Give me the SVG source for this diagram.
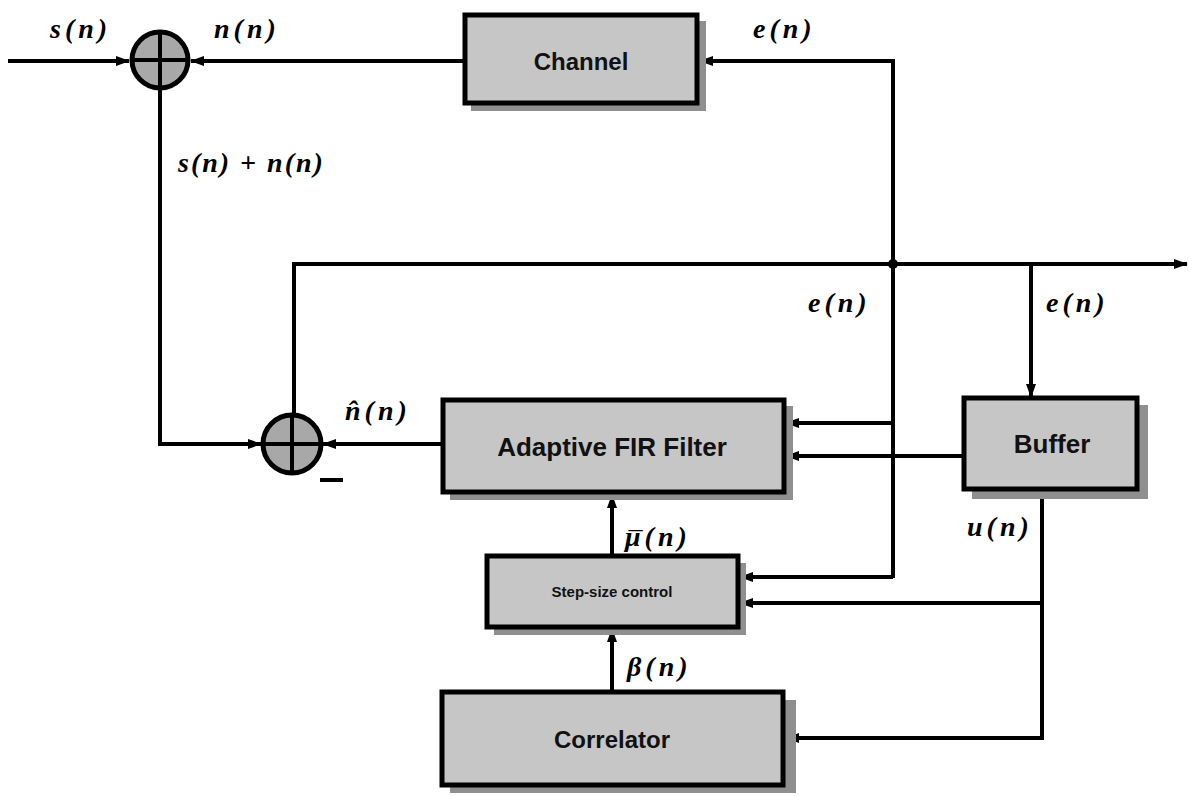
<svg xmlns="http://www.w3.org/2000/svg" width="1189" height="796" viewBox="0 0 1189 796">
<style>
.ln{fill:none;stroke:#000;stroke-width:4;stroke-linejoin:miter}
.box{fill:#c6c6c6;stroke:#000;stroke-width:5}
.sh{fill:#8f8f8f}
.bt{font-family:"Liberation Sans",Arial,sans-serif;font-weight:bold;fill:#111;text-anchor:middle}
.lb{font-family:"Liberation Serif","Times New Roman",serif;font-weight:bold;font-style:italic;font-size:28px;letter-spacing:4px;fill:#000}
.sum{fill:#a8a8a8;stroke:#000;stroke-width:5}
</style>
<defs>
<marker id="ar" markerWidth="14" markerHeight="12" refX="13" refY="6" orient="auto" markerUnits="userSpaceOnUse">
<path d="M0,1 L14,6 L0,11 Z" fill="#000"/>
</marker>
</defs>
<rect width="1189" height="796" fill="#fff"/>

<g id="connectors">
<line class="ln" x1="8" y1="61" x2="129" y2="61" marker-end="url(#ar)"/>
<line class="ln" x1="465" y1="61" x2="191" y2="61" marker-end="url(#ar)"/>
<path class="ln" d="M893,578 L893,61 L700,61" marker-end="url(#ar)"/>
<path class="ln" d="M160,89 L160,444 L261,444" marker-end="url(#ar)"/>
<path class="ln" d="M294,414 L294,264 L1187,264" marker-end="url(#ar)"/>
<circle cx="893" cy="264" r="5" fill="#000"/>
<line class="ln" x1="1031" y1="264" x2="1031" y2="397" marker-end="url(#ar)"/>
<line class="ln" x1="442" y1="444" x2="323" y2="444" marker-end="url(#ar)"/>
<line class="ln" x1="893" y1="423" x2="786" y2="423" marker-end="url(#ar)"/>
<line class="ln" x1="964" y1="456" x2="786" y2="456" marker-end="url(#ar)"/>
<line class="ln" x1="893" y1="577" x2="740" y2="577" marker-end="url(#ar)"/>
<path class="ln" d="M1042,490 L1042,738 L786,738" marker-end="url(#ar)"/>
<line class="ln" x1="1042" y1="603" x2="740" y2="603" marker-end="url(#ar)"/>
<line class="ln" x1="612" y1="555" x2="612" y2="495" marker-end="url(#ar)"/>
<line class="ln" x1="612" y1="692" x2="612" y2="629" marker-end="url(#ar)"/>
<line x1="320" y1="480" x2="343" y2="480" stroke="#000" stroke-width="4"/>
</g>

<g id="sum1">
<circle class="sum" cx="160" cy="60" r="28"/>
<line x1="132" y1="60" x2="188" y2="60" stroke="#000" stroke-width="4"/>
<line x1="160" y1="32" x2="160" y2="88" stroke="#000" stroke-width="4"/>
</g>

<g id="sum2">
<circle class="sum" cx="292" cy="444" r="29"/>
<line x1="263" y1="444" x2="321" y2="444" stroke="#000" stroke-width="4"/>
<line x1="292" y1="415" x2="292" y2="473" stroke="#000" stroke-width="4"/>
</g>

<g id="channel">
<rect class="sh" x="471" y="21" width="235" height="90"/>
<rect class="box" x="465" y="15" width="232" height="88"/>
<text class="bt" x="581" y="70" font-size="24">Channel</text>
</g>

<g id="adaptive">
<rect class="sh" x="450" y="406" width="343" height="94"/>
<rect class="box" x="443" y="400" width="341" height="92"/>
<text class="bt" x="612" y="456" font-size="26">Adaptive FIR Filter</text>
</g>

<g id="buffer">
<rect class="sh" x="972" y="405" width="176" height="94"/>
<rect class="box" x="964" y="398" width="173" height="91"/>
<text class="bt" x="1052" y="453" font-size="26">Buffer</text>
</g>

<g id="stepsize">
<rect class="sh" x="494" y="563" width="252" height="72"/>
<rect class="box" x="487" y="556" width="251" height="71"/>
<text class="bt" x="612" y="597" font-size="15">Step-size control</text>
</g>

<g id="correlator">
<rect class="sh" x="450" y="700" width="346" height="93"/>
<rect class="box" x="442" y="692" width="341" height="93"/>
<text class="bt" x="612" y="748" font-size="24">Correlator</text>
</g>

<g id="labels">
<text class="lb" x="50" y="38">s(n)</text>
<text class="lb" x="214" y="38">n(n)</text>
<text class="lb" x="753" y="38">e(n)</text>
<text class="lb" x="178" y="172" style="letter-spacing:2px">s(n) + n(n)</text>
<text class="lb" x="808" y="312">e(n)</text>
<text class="lb" x="1046" y="312">e(n)</text>
<text class="lb" x="345" y="420">n̂(n)</text>
<text class="lb" x="625" y="546">μ<tspan dx="-18" dy="5">¯</tspan><tspan dy="-5">(n)</tspan></text>
<text class="lb" x="967" y="536">u(n)</text>
<text class="lb" x="627" y="676">β(n)</text>
</g>
</svg>
